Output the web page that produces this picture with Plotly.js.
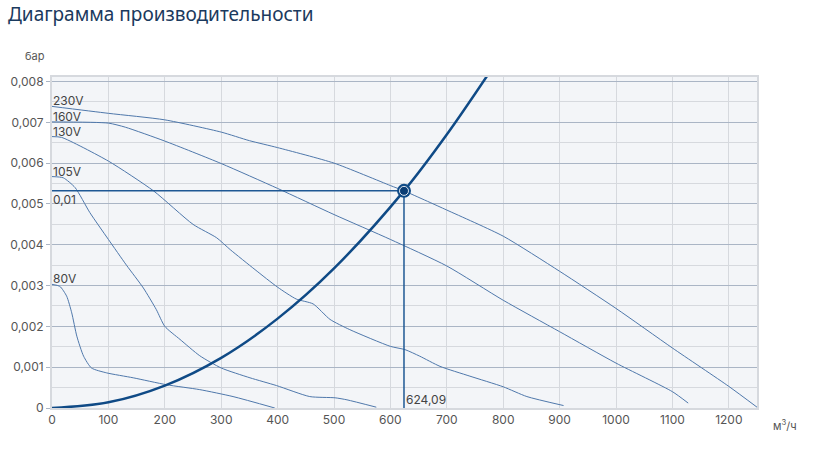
<!DOCTYPE html>
<html>
<head>
<meta charset="utf-8">
<script src="https://cdn.plot.ly/plotly-3.0.1.min.js"></script>
<style>
  body { margin: 0; background: #fff; }
  #chart { width: 825px; height: 461px; }
</style>
</head>
<body>
<div id="chart"></div>
<script>
// fan curves, airflow in m3/h, pressure in bar
var q230 = [0, 100, 200, 300, 350, 400, 500, 600, 624.09, 700, 800, 900, 1000, 1100, 1200, 1250];
var p230 = [0.00739, 0.00722, 0.00706, 0.00676, 0.00655, 0.00638, 0.00600, 0.00545, 0.00532, 0.00485, 0.00421, 0.00335, 0.00244, 0.00147, 0.00053, 0.00002];

var q160 = [0, 100, 130, 200, 300, 400, 500, 600, 700, 800, 900, 1000, 1100, 1128];
var p160 = [0.00701, 0.00698, 0.00688, 0.00654, 0.00599, 0.00538, 0.00474, 0.00413, 0.00348, 0.00264, 0.00187, 0.00110, 0.00040, 0.00012];

var q130 = [0, 17, 100, 180, 250, 292, 316, 360, 400, 433, 463, 493, 528, 600, 626, 652, 688, 741, 800, 842, 907];
var p130 = [0.00665, 0.00663, 0.00605, 0.00532, 0.00450, 0.00417, 0.00388, 0.00339, 0.00296, 0.00267, 0.00255, 0.00217, 0.00192, 0.00151, 0.00143, 0.00127, 0.00102, 0.00078, 0.00052, 0.00028, 0.00006];

var q105 = [0, 20, 41, 67, 100, 132, 162, 185, 200, 227, 262, 300, 351, 398, 457, 502, 523, 575];
var p105 = [0.00567, 0.00564, 0.00540, 0.00479, 0.00413, 0.00350, 0.00294, 0.00241, 0.00200, 0.00168, 0.00128, 0.00098, 0.00074, 0.00055, 0.00028, 0.00025, 0.00020, 0.00002];

var q80 = [0, 14, 26, 35, 44, 56, 70, 97, 144, 203, 262, 321, 395];
var p80 = [0.00303, 0.00298, 0.00274, 0.00233, 0.00176, 0.00127, 0.00098, 0.00086, 0.00074, 0.00057, 0.00045, 0.00028, 0.0];

// system (network) curve
var qSys = [0, 100, 200, 300, 400, 500, 624.09, 700, 790];
var pSys = [0, 0.00014, 0.00055, 0.00123, 0.00219, 0.00342, 0.00532, 0.00670, 0.00852];

// operating point
var opQ = 624.09;
var opP = 0.00532;
var opQLabel = '624,09';
var opPLabel = '0,01';

var curveNames = ['230V', '160V', '130V', '105V', '80V'];
var curveQ = [q230, q160, q130, q105, q80];
var curveP = [p230, p160, p130, p105, p80];

var yTicks = [0, 0.001, 0.002, 0.003, 0.004, 0.005, 0.006, 0.007, 0.008];
var yTickText = ['0', '0,001', '0,002', '0,003', '0,004', '0,005', '0,006', '0,007', '0,008'];

var curveColor = '#4f78ab';
var darkBlue = '#0f4a86';

var data = [];
var annotations = [];

for (var i = 0; i < curveNames.length; i++) {
  data.push({
    type: 'scatter', mode: 'lines',
    x: curveQ[i], y: curveP[i],
    line: {color: curveColor, width: 1, shape: 'spline', smoothing: 0.6},
    hoverinfo: 'skip', showlegend: false
  });
  annotations.push({
    x: curveQ[i][0], y: curveP[i][0], xref: 'x', yref: 'y',
    text: curveNames[i], showarrow: false,
    xanchor: 'left', yanchor: 'bottom', xshift: -1, yshift: -4,
    font: {family: 'Inter, Roboto, sans-serif', size: 12, color: '#444'}
  });
}

// guide lines to the operating point
data.push({
  type: 'scatter', mode: 'lines',
  x: [0, opQ], y: [opP, opP],
  line: {color: '#1f5894', width: 1.5},
  hoverinfo: 'skip', showlegend: false
});
data.push({
  type: 'scatter', mode: 'lines',
  x: [opQ, opQ], y: [0, opP],
  line: {color: '#1f5894', width: 1.5},
  hoverinfo: 'skip', showlegend: false
});

data.push({
  type: 'scatter', mode: 'lines',
  x: qSys, y: pSys,
  line: {color: darkBlue, width: 2.5, shape: 'spline'},
  hoverinfo: 'skip', showlegend: false
});

// point: outer ring + inner dot
data.push({
  type: 'scatter', mode: 'markers',
  x: [opQ], y: [opP],
  marker: {size: 14, color: darkBlue},
  hoverinfo: 'skip', showlegend: false
});
data.push({
  type: 'scatter', mode: 'markers',
  x: [opQ], y: [opP],
  marker: {size: 9, color: '#0b3d74', line: {color: '#dfe6ef', width: 1}},
  hoverinfo: 'skip', showlegend: false
});

annotations.push({
  x: 0, y: opP, xref: 'x', yref: 'y', text: opPLabel, showarrow: false,
  xanchor: 'left', yanchor: 'top', xshift: -1, yshift: 1,
  font: {family: 'Inter, Roboto, sans-serif', size: 12, color: '#444'}
});
annotations.push({
  x: opQ, y: 0, xref: 'x', yref: 'y', text: opQLabel, showarrow: false,
  xanchor: 'left', yanchor: 'bottom', xshift: 0, yshift: -1,
  font: {family: 'Inter, Roboto, sans-serif', size: 12, color: '#444'}
});
annotations.push({
  x: -0.024, y: 1.063, xref: 'paper', yref: 'paper', text: 'бар', showarrow: false,
  xanchor: 'center', yanchor: 'middle',
  font: {family: 'Inter, Roboto, sans-serif', size: 11, color: '#555'}
});
annotations.push({
  x: 1.04, y: -0.054, xref: 'paper', yref: 'paper', text: 'м<sup>3</sup>/ч', showarrow: false,
  xanchor: 'center', yanchor: 'middle',
  font: {family: 'Inter, Roboto, sans-serif', size: 11, color: '#555'}
});

var layout = {
  width: 825, height: 461,
  margin: {l: 52, r: 68, t: 77, b: 53},
  paper_bgcolor: '#ffffff',
  plot_bgcolor: '#f3f5f8',
  title: {
    text: 'Диаграмма производительности',
    x: 0.0097, xref: 'container', xanchor: 'left',
    y: 0.969, yref: 'container', yanchor: 'middle',
    font: {family: 'Noto Sans, Open Sans, sans-serif', size: 19, color: '#1b3a5e'}
  },
  xaxis: {
    range: [0, 1250],
    tickvals: [0, 100, 200, 300, 400, 500, 600, 700, 800, 900, 1000, 1100, 1200],
    showgrid: true, gridcolor: '#d6d9de', gridwidth: 1,
    zeroline: false,
    showline: true, mirror: true, linecolor: '#d6d9de', linewidth: 2,
    ticks: '',
    tickfont: {family: 'Inter, Roboto, sans-serif', size: 12, color: '#555'}
  },
  yaxis: {
    range: [0, 0.00811],
    tickvals: yTicks, ticktext: yTickText,
    showgrid: true, gridcolor: '#aab5c5', gridwidth: 1,
    minor: {dtick: 0.0005, showgrid: true, gridcolor: '#d6d9de', gridwidth: 1, ticks: ''},
    zeroline: false,
    showline: true, mirror: true, linecolor: '#d6d9de', linewidth: 2,
    ticks: 'outside', ticklen: 4, tickcolor: '#aab5c5',
    tickfont: {family: 'Inter, Roboto, sans-serif', size: 12, color: '#555'}
  },
  annotations: annotations
};

Plotly.newPlot('chart', data, layout, {displayModeBar: false, staticPlot: true});
</script>
</body>
</html>
